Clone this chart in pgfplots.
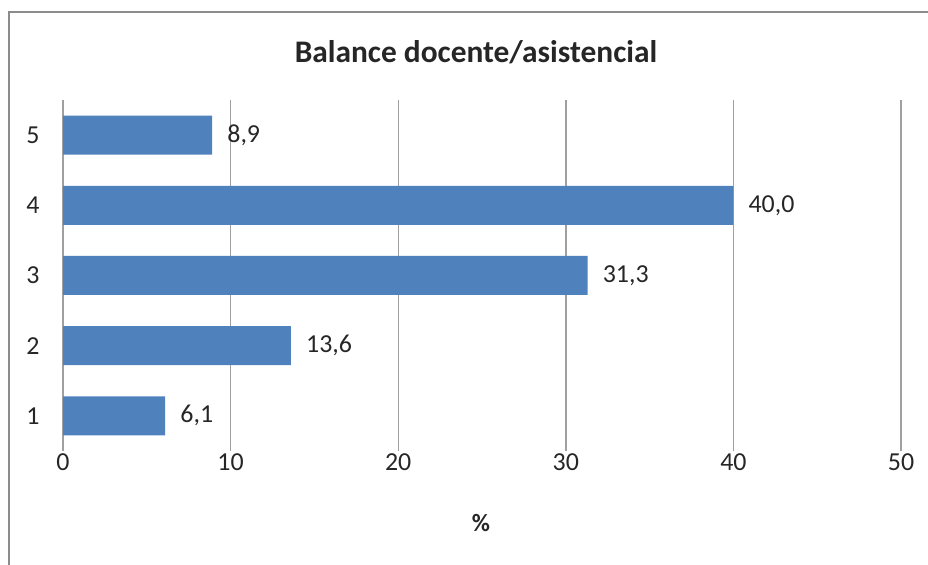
\documentclass[border=0pt]{standalone}
\usepackage{fontspec}
\setmainfont{Carlito}
\usepackage{pgfplots}
\pgfplotsset{compat=1.18}
\definecolor{barblue}{HTML}{4F81BD}
\definecolor{gridgray}{HTML}{A0A0A0}
\definecolor{framegray}{HTML}{8C8C8C}
\definecolor{txt}{HTML}{262626}
\begin{document}
\begin{tikzpicture}[x=1bp,y=1bp]
\path[use as bounding box] (0,0) rectangle (928,565);
\draw[framegray, line width=1.5bp] (9,0) -- (9,553) -- (928,553);
\begin{axis}[
    at={(63bp,114bp)}, anchor=south west,
    scale only axis, width=838bp, height=351bp,
    xbar, bar width=39bp,
    xmin=0, xmax=50, ymin=0.5, ymax=5.5,
    xtick={0,10,20,30,40,50}, ytick={1,2,3,4,5},
    xmajorgrids, grid style={gridgray, line width=1.4bp},
    axis line style={draw=none},
    major tick length=0pt,
    tick label style={font=\fontsize{26}{30}\selectfont, text=txt},
    xticklabel style={yshift=1bp},
    yticklabel style={xshift=-20bp},
    /pgf/number format/assume math mode=true,
    nodes near coords={\pgfmathprintnumber[fixed,fixed zerofill,precision=1,use comma]{\pgfplotspointmeta}},
    nodes near coords style={font=\fontsize{26}{30}\selectfont, text=txt, anchor=west, inner sep=0pt, xshift=15bp},
]
\addplot[fill=barblue, draw=none] coordinates {
    (6.1,1)
    (13.6,2)
    (31.3,3)
    (40.0,4)
    (8.9,5)
};
\end{axis}
\node[font=\bfseries\fontsize{31.5}{36}\selectfont, text=txt] at (476,513) {Balance docente/asistencial};
\node[font=\bfseries\fontsize{25}{30}\selectfont, text=txt] at (481,42) {\%};
\end{tikzpicture}
\end{document}
